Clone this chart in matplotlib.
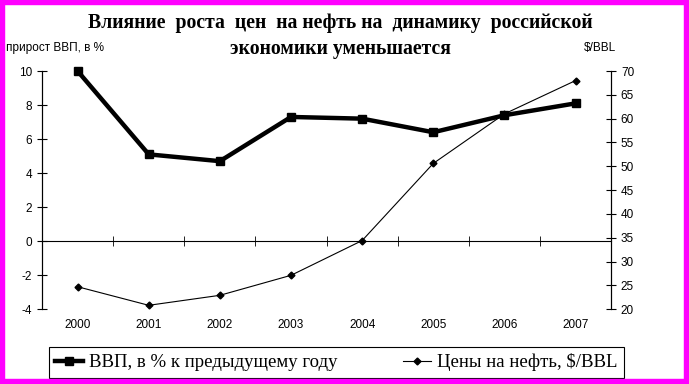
import numpy as np
import matplotlib
matplotlib.use("Agg")
import matplotlib.pyplot as plt
from matplotlib.patches import Rectangle

plt.rcParams['axes.unicode_minus'] = False

# годы
years = ['2000', '2001', '2002', '2003', '2004', '2005', '2006', '2007']
# прирост ВВП, %
gdp = [10.0, 5.1, 4.7, 7.3, 7.2, 6.4, 7.4, 8.1]
# цены на нефть, $/BBL
oil = [24.7, 20.8, 22.9, 27.1, 34.4, 50.6, 61.0, 68.0]

title1 = 'Влияние  роста  цен  на нефть на  динамику  российской'
title2 = 'экономики уменьшается'
sans = 'Liberation Sans'
serif = 'Liberation Serif'

fig = plt.figure(figsize=(6.89, 3.84), dpi=100)
ax = fig.add_axes([0.061, 0.195, 0.826, 0.62])
ax2 = ax.twinx()

x = np.arange(len(years))
l1, = ax.plot(x, gdp, color='black', lw=3.2, marker='s', markersize=6,
              label='ВВП, в % к предыдущему году', clip_on=False)
l2, = ax2.plot(x, oil, color='black', lw=0.8, marker='D', markersize=3.5,
               label='Цены на нефть, $/BBL', clip_on=False)

ax.set_xlim(-0.5, len(years) - 0.5)
ax.set_ylim(-4, 10)
ax.set_yticks(range(-4, 11, 2))
ax2.set_ylim(20, 70)
ax2.set_yticks(range(20, 71, 5))

# ось X на уровне нуля
for a in (ax, ax2):
    a.spines['top'].set_visible(False)
ax2.spines['bottom'].set_visible(False)
ax.spines['bottom'].set_position(('data', 0))
ax.set_xticks(x)
ax.set_xticklabels(years, fontsize=8.5, family=sans)
ax.tick_params(axis='x', which='major', length=0, pad=56)
ax.set_xticks(np.arange(-0.5, len(years)), minor=True)
ax.tick_params(axis='x', which='minor', direction='inout', length=7)

ax.tick_params(axis='y', direction='inout', length=7, labelsize=8.5)
ax2.tick_params(axis='y', direction='inout', length=7, labelsize=8.5)
for lab in ax.get_yticklabels() + ax2.get_yticklabels():
    lab.set_family(sans)

fig.text(0.494, 0.94, title1, ha='center', va='center', fontsize=14.2,
         fontweight='bold', family=serif)
fig.text(0.494, 0.872, title2, ha='center', va='center', fontsize=14.2,
         fontweight='bold', family=serif)
fig.text(0.008, 0.875, 'прирост ВВП, в %', fontsize=8.5, family=sans, va='center')
fig.text(0.848, 0.875, '$/BBL', fontsize=8.5, family=sans, va='center')

leg = fig.legend(handles=[l1, l2], loc='center', bbox_to_anchor=(0.488, 0.056),
                 ncol=2, fancybox=False, edgecolor='black', framealpha=1,
                 prop={'family': serif, 'size': 13.5}, handlelength=1.5,
                 handletextpad=0.3, columnspacing=3.5, borderpad=0.35,
                 borderaxespad=0)
leg.get_frame().set_linewidth(0.8)

fig.patches.append(Rectangle((0, 0), 1, 1, transform=fig.transFigure,
                             fill=False, edgecolor='#ff00ff', lw=7.5, zorder=10))

fig.savefig('out.png', dpi=100)
